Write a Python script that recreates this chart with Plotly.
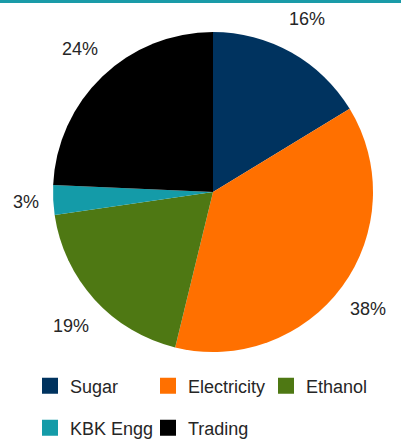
import math
import plotly.graph_objects as go

categories = ["Sugar", "Electricity", "Ethanol", "KBK Engg", "Trading"]
shares = [16.3, 37.5, 18.9, 3.0, 24.3]
colors = ["#00335f", "#ff7000", "#4e7813", "#149ba8", "#000000"]

W, H = 401, 440
cx, cy, R = 213, 192, 160
FONT = "'Liberation Sans', Arial, sans-serif"
LABEL_SIZE = 18

fig = go.Figure()
fig.add_trace(go.Pie(
    labels=categories, values=shares, sort=False, direction="clockwise",
    rotation=0, marker=dict(colors=colors, line=dict(width=0)),
    textinfo="none", hoverinfo="label+percent", showlegend=False,
    domain=dict(x=[(cx - R) / W, (cx + R) / W], y=[1 - (cy + R) / H, 1 - (cy - R) / H]),
))

# percentage labels placed outside the pie from slice mid-angles
total = sum(shares)
cum = 0
ann = []
rx, ry = R * 1.09, R * 1.24
for v in shares:
    mid = (cum + v / 2) / total * 2 * math.pi
    cum += v
    txt = f"{round(v / total * 100)}%"
    half_w = (10 * (len(txt) - 1) + 16) / 2
    px = cx + (rx + half_w) * math.sin(mid)
    py = cy - ry * math.cos(mid)
    ann.append(dict(x=px / W, y=1 - py / H, xref="paper", yref="paper",
                    xanchor="center", yanchor="middle",
                    text=txt, showarrow=False,
                    font=dict(size=LABEL_SIZE, color="#262626", family=FONT)))

# legend entries via dummy traces
for i, (c, col) in enumerate(zip(categories, colors)):
    fig.add_trace(go.Scatter(
        x=[None], y=[None], mode="markers", name=c,
        marker=dict(symbol="square", size=16, color=col),
        legend="legend" if i < 3 else "legend2",
    ))

leg = dict(orientation="h", font=dict(size=18, color="#262626", family=FONT),
           entrywidth=73, entrywidthmode="pixels", bgcolor="rgba(0,0,0,0)",
           xanchor="left", yanchor="middle", itemclick=False)

fig.update_layout(
    width=W, height=H, margin=dict(l=0, r=0, t=0, b=0, autoexpand=False),
    paper_bgcolor="white", plot_bgcolor="white",
    xaxis=dict(visible=False), yaxis=dict(visible=False),
    annotations=ann,
    legend=dict(leg, x=30 / W, y=1 - 386 / H),
    legend2=dict(leg, x=30 / W, y=1 - 428 / H),
    shapes=[dict(type="rect", xref="paper", yref="paper", x0=0, x1=1,
                 y0=1 - 3 / H, y1=1, fillcolor="#1a9ba8", line=dict(width=0),
                 layer="above")],
)

fig.write_html("out.html", config={"displayModeBar": False},
               post_script="document.body.style.margin='0';")
